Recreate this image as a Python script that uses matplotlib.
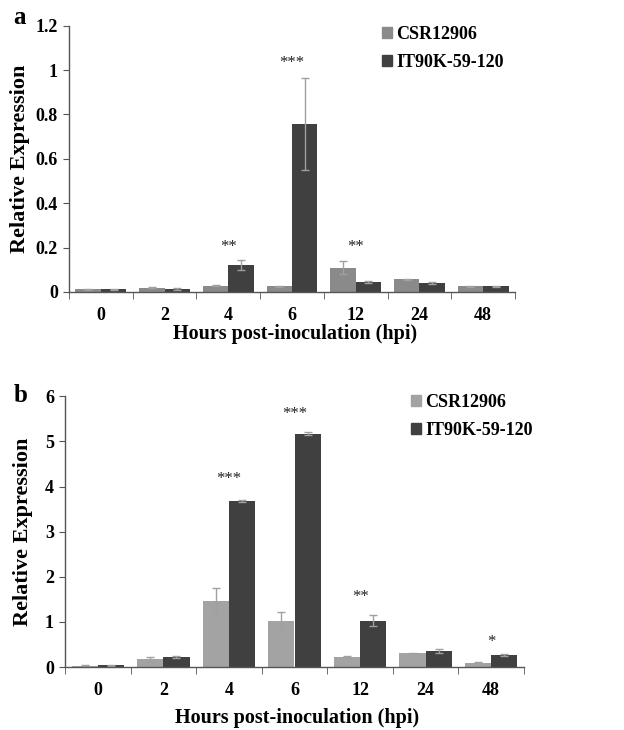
import matplotlib
matplotlib.use("Agg")
import matplotlib.pyplot as plt
import numpy as np
from matplotlib.patches import Patch

categories = ["0", "2", "4", "6", "12", "24", "48"]

# Panel a
a_csr = [0.012, 0.019, 0.029, 0.025, 0.110, 0.057, 0.025]
a_csr_err = [0.002, 0.003, 0.003, 0.001, 0.029, 0.003, 0.002]
a_it = [0.012, 0.013, 0.121, 0.758, 0.046, 0.040, 0.025]
a_it_err = [0.002, 0.003, 0.024, 0.208, 0.004, 0.004, 0.002]
a_stars = ["", "", "**", "***", "**", "", ""]
a_star_y = [0, 0, 0.205, 1.03, 0.205, 0, 0]

# Panel b
b_csr = [0.03, 0.17, 1.46, 1.01, 0.22, 0.30, 0.09]
b_csr_err = [0.01, 0.05, 0.28, 0.22, 0.02, 0.02, 0.02]
b_it = [0.037, 0.22, 3.68, 5.17, 1.03, 0.35, 0.27]
b_it_err = [0.01, 0.02, 0.02, 0.03, 0.12, 0.04, 0.02]
b_stars = ["", "", "***", "***", "**", "", "*"]
b_star_y = [0, 0, 4.16, 5.61, 1.56, 0, 0.56]

series_names = ["CSR12906", "IT90K-59-120"]

W, H = 624, 730
fig = plt.figure(figsize=(W / 100, H / 100), dpi=100)
plt.rcParams["font.family"] = ["Liberation Serif", "DejaVu Serif"]

dark = "#404040"
errc = "#a0a0a0"


def panel(rect, csr, csr_err, it, it_err, stars, star_y, ylim, yticks, yticklabels,
          csr_color, letter, letter_xy, leg_anchor, ylabel_x, xlabel_y):
    l, t, r, b = rect
    ax = fig.add_axes([l / W, 1 - b / H, (r - l) / W, (b - t) / H])
    x = np.arange(len(categories))
    bw = 0.40
    ax.bar(x - bw / 2, csr, bw, color=csr_color, yerr=csr_err,
           error_kw=dict(ecolor=errc, elinewidth=1, capsize=3, capthick=1))
    ax.bar(x + bw / 2, it, bw, color=dark, yerr=it_err,
           error_kw=dict(ecolor=errc, elinewidth=1, capsize=3, capthick=1))
    for xi, s, sy in zip(x, stars, star_y):
        if s:
            ax.text(xi, sy, s, ha="center", va="center", fontsize=12, color="#222222")
    ax.set_xlim(-0.5, len(categories) - 0.5)
    ax.set_ylim(*ylim)
    ax.set_yticks(yticks)
    ax.set_yticklabels(yticklabels, fontsize=13, fontweight="bold")
    ax.set_xticks(x)
    ax.set_xticklabels(categories, fontsize=13, fontweight="bold")
    ax.set_xticks(np.arange(len(categories) + 1) - 0.5, minor=True)
    ax.tick_params(axis="x", which="major", length=0, pad=11)
    ax.tick_params(axis="x", which="minor", length=5, direction="out", color="#555555")
    ax.tick_params(axis="y", length=4, direction="out", color="#555555", pad=4)
    for s in ["top", "right"]:
        ax.spines[s].set_visible(False)
    for s in ["left", "bottom"]:
        ax.spines[s].set_color("#555555")
        ax.spines[s].set_linewidth(1)
    ax.set_ylabel("Relative Expression", fontsize=16, fontweight="bold", va="center")
    ax.yaxis.set_label_coords(ylabel_x / W, 1 - ((t + b) / 2) / H, transform=fig.transFigure)
    ax.set_xlabel("Hours post-inoculation (hpi)", fontsize=14.5, fontweight="bold",
                  va="center")
    ax.xaxis.set_label_coords(((l + r) / 2 + 3) / W, 1 - xlabel_y / H, transform=fig.transFigure)
    fig.text(letter_xy[0] / W, 1 - letter_xy[1] / H, letter, fontsize=18,
             fontweight="bold", ha="center", va="center")
    handles = [Patch(color=csr_color), Patch(color=dark)]
    ax.legend(handles, series_names, loc="upper left",
              bbox_to_anchor=(leg_anchor[0] / W, 1 - leg_anchor[1] / H),
              bbox_transform=fig.transFigure, frameon=False,
              prop=dict(size=13, weight="bold"), handlelength=0.55,
              handleheight=0.55, handletextpad=0.25, labelspacing=0.6,
              borderaxespad=0, borderpad=0)
    return ax


panel((69, 25.7, 515, 292), a_csr, a_csr_err, a_it, a_it_err, a_stars, a_star_y,
      (0, 1.2), [0, 0.2, 0.4, 0.6, 0.8, 1.0, 1.2],
      ["0", "0.2", "0.4", "0.6", "0.8", "1", "1.2"], "#8a8a8a", "a", (19, 18), (382, 26),
      20, 334)
panel((65, 396.3, 524, 667), b_csr, b_csr_err, b_it, b_it_err, b_stars, b_star_y,
      (0, 6), [0, 1, 2, 3, 4, 5, 6],
      ["0", "1", "2", "3", "4", "5", "6"], "#a3a3a3", "b", (21, 395), (411, 394),
      23, 718)

fig.savefig("out.png", dpi=100, facecolor="white")
